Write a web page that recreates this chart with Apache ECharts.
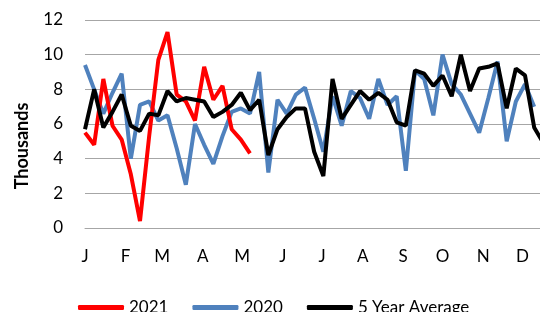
<!DOCTYPE html>
<html>
<head>
<meta charset="utf-8">
<script src="https://cdn.jsdelivr.net/npm/echarts@6/dist/echarts.min.js"></script>
<style>
  html, body { margin: 0; padding: 0; background: #fff; }
  #chart { width: 540px; height: 312px; }
</style>
</head>
<body>
<div id="chart"></div>
<script>
// weekly values, thousands
var seriesNames = ['2021', '2020', '5 Year Average'];
var monthLetters = ['J', 'F', 'M', 'A', 'M', 'J', 'J', 'A', 'S', 'O', 'N', 'D'];
var yTicks = [0, 2, 4, 6, 8, 10, 12];

var y2021 = [5.5, 4.8, 8.6, 5.9, 5.1, 3.1, 0.4, 5.3, 9.7, 11.3,
             7.7, 7.3, 6.2, 9.3, 7.4, 8.2, 5.7, 5.1, 4.3];

var y2020 = [9.4, 8.0, 6.6, 7.8, 8.9, 4.0, 7.1, 7.3, 6.2, 6.5,
             4.6, 2.5, 6.0, 4.8, 3.7, 5.3, 6.7, 6.9, 6.6, 9.0,
             3.2, 7.4, 6.6, 7.7, 8.1, 6.3, 4.4, 7.6, 5.9, 7.9,
             7.5, 6.3, 8.6, 7.1, 7.6, 3.3, 9.1, 8.6, 6.5, 10.0,
             8.3, 7.7, 6.6, 5.5, 7.5, 9.6, 5.0, 7.3, 8.3, 7.0];

var yAvg = [5.7, 8.0, 5.8, 6.7, 7.7, 5.9, 5.6, 6.6, 6.5, 7.9,
            7.3, 7.5, 7.4, 7.3, 6.4, 6.7, 7.1, 7.8, 6.8, 7.4,
            4.2, 5.7, 6.4, 6.9, 6.9, 4.4, 3.0, 8.6, 6.3, 7.1,
            7.9, 7.4, 7.8, 7.4, 6.1, 5.9, 9.1, 8.9, 8.2, 8.8,
            7.6, 10.0, 7.9, 9.2, 9.3, 9.5, 6.9, 9.2, 8.8, 5.8,
            4.9, 4.6];

// one point per week from 1 Jan
function weekly(vals) {
  return vals.map(function(v, i) {
    return [new Date(2021, 0, 1 + i * 7).getTime(), v];
  });
}

var DAY = 24 * 3600 * 1000;
var font = 'Lato, "Open Sans", sans-serif';

var chart = echarts.init(document.getElementById('chart'));

var option = {
  animation: false,
  backgroundColor: '#fff',
  // the year runs on past the right edge of the picture
  grid: {
    left: 85,
    width: 478,
    top: 20,
    bottom: 84,
    containLabel: false,
    outerBoundsMode: 'none'
  },
  xAxis: {
    type: 'time',
    min: new Date(2021, 0, 1).getTime(),
    max: new Date(2022, 0, 1).getTime(),
    splitNumber: 12,
    minInterval: 28 * DAY,
    maxInterval: 31 * DAY,
    axisLine: { show: true, lineStyle: { color: '#a6a6a6', width: 1 } },
    axisTick: { show: false },
    splitLine: { show: false },
    axisLabel: {
      color: '#000',
      fontFamily: font,
      fontSize: 17,
      margin: 20,
      showMaxLabel: false,
      formatter: function(value) {
        return monthLetters[new Date(value).getMonth()];
      }
    }
  },
  yAxis: {
    type: 'value',
    min: yTicks[0],
    max: yTicks[yTicks.length - 1],
    interval: 2,
    axisLine: { show: false },
    axisTick: { show: false },
    splitLine: { lineStyle: { color: '#a6a6a6', width: 1 } },
    axisLabel: {
      color: '#000',
      fontFamily: font,
      fontSize: 17,
      margin: 22
    }
  },
  legend: {
    data: seriesNames,
    left: 73,
    top: 294,
    itemWidth: 46,
    itemHeight: 5,
    itemGap: 24,
    icon: 'roundRect',
    textStyle: { color: '#000', fontFamily: font, fontSize: 17 }
  },
  graphic: [{
    type: 'text',
    x: 22,
    y: 146,
    rotation: Math.PI / 2,
    style: {
      text: 'Thousands',
      fill: '#000',
      font: 'bold 18px ' + font,
      textAlign: 'center',
      textVerticalAlign: 'middle'
    }
  }],
  series: [
    {
      name: seriesNames[0],
      type: 'line',
      z: 3,
      symbol: 'none',
      data: weekly(y2021),
      itemStyle: { color: '#ff0000' },
      lineStyle: { color: '#ff0000', width: 4 }
    },
    {
      name: seriesNames[1],
      type: 'line',
      z: 2,
      symbol: 'none',
      data: weekly(y2020),
      itemStyle: { color: '#4f81bd' },
      lineStyle: { color: '#4f81bd', width: 4 }
    },
    {
      name: seriesNames[2],
      type: 'line',
      z: 4,
      symbol: 'none',
      data: weekly(yAvg),
      itemStyle: { color: '#000000' },
      lineStyle: { color: '#000000', width: 4 }
    }
  ]
};

chart.setOption(option);
</script>
</body>
</html>
